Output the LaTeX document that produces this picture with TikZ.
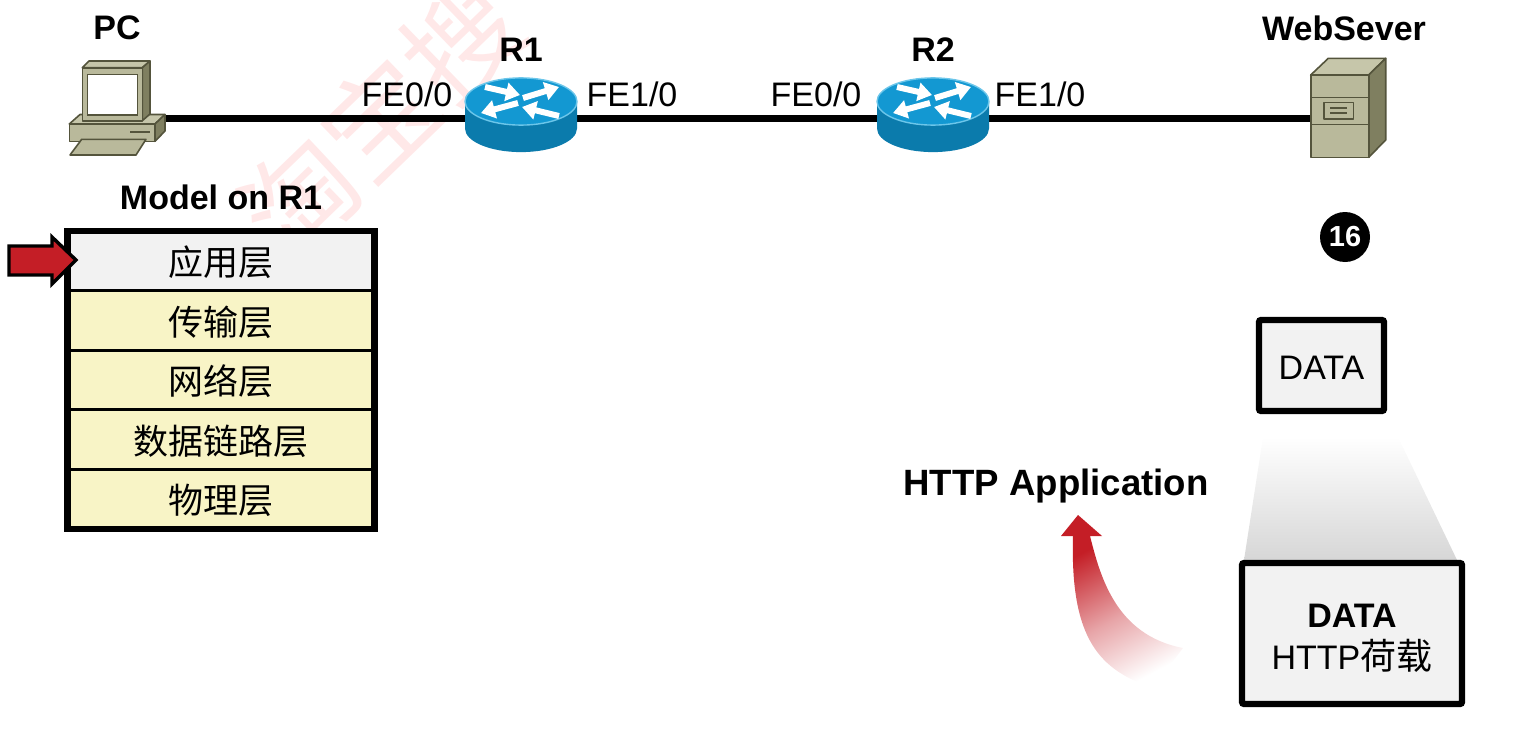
\documentclass[tikz,border=0pt]{standalone}
\usepackage{fontspec}
\setmainfont{Liberation Sans}
\newfontfamily\cjk{Noto Sans CJK SC}
\usetikzlibrary{positioning,fit,arrows.meta}

\definecolor{paneface}{HTML}{F2F2F2}
\definecolor{rowyellow}{HTML}{F8F4C6}
\definecolor{iconface}{HTML}{B9B99B}
\definecolor{icontop}{HTML}{C6C6AA}
\definecolor{iconside}{HTML}{7F7F60}
\definecolor{iconedge}{HTML}{54543C}
\definecolor{routertop}{HTML}{1398D2}
\definecolor{routerside}{HTML}{0B7BAC}
\definecolor{routerrim}{HTML}{6CC6EA}
\definecolor{pointred}{HTML}{C41E26}
\definecolor{markpink}{HTML}{FFE8E8}

\pgfdeclareverticalshading{tailfade}{100bp}{color(0bp)=(white); color(25bp)=(white); color(46bp)=(pointred!40); color(70bp)=(pointred); color(100bp)=(pointred)}

\tikzset{
  iconbox/.style={minimum height=20pt, inner sep=0pt, outer sep=0pt},
  linkline/.style={line width=3.8pt},
  iconshape/.style={draw=iconedge, line width=0.8pt, line join=round},
  routerarrow/.style={white, line width=3pt, -{Triangle[length=7pt, width=9pt]}},
  hostlabel/.style={font=\fontsize{17}{20}\selectfont\bfseries, inner sep=0pt},
  portlabel/.style={font=\fontsize{17}{20}\selectfont, inner sep=0pt},
  layerrow/.style={draw, line width=1.4pt, fill=rowyellow, minimum width=153.7pt, minimum height=29.8pt,
    inner sep=0pt, outer sep=0pt, text depth=0pt, font=\fontsize{17.5}{20}\selectfont\cjk},
  dataframe/.style={draw, line width=3.1pt, rounded corners=1pt, fill=paneface, inner sep=0pt, align=center}
}

\begin{document}
\begin{tikzpicture}[x=0.5pt, y=-0.5pt]
  \useasboundingbox (0,0) rectangle (1536,755);
  \clip (0,0) rectangle (1536,755);

  % watermark
  \node[text=markpink, rotate=44, inner sep=0pt, font=\fontsize{56}{60}\selectfont\cjk] (mark) at (380,119) {淘宝搜};

  \node[iconbox, minimum width=48pt] (pc) at (117,118.5) {};
  \node[iconbox, minimum width=56pt] (r1) at (521,118.5) {};
  \node[iconbox, minimum width=56pt] (r2) at (933,118.5) {};
  \node[iconbox, minimum width=38pt] (server) at (1348,118.5) {};
  \draw[linkline] (pc) -- (r1) -- (r2) -- (server);

  % PC
  \draw[iconshape, fill=icontop] (69.3,124) -- (80,114.5) -- (165,114.5) -- (155,124) -- cycle;
  \draw[iconshape, fill=iconside] (155,124) -- (165,114.5) -- (165,131) -- (155,141.3) -- cycle;
  \draw[iconshape, fill=iconface] (69.3,124) rectangle (155,141.3);
  \draw[iconedge, line width=1pt] (130,131.7) -- (150,131.7);
  \draw[iconshape, fill=iconface] (81.7,139.3) -- (146,139.3) -- (136,155) -- (70,155) -- cycle;
  \draw[iconshape, fill=icontop] (82.3,67.7) -- (89,61) -- (150,61) -- (142.3,67.7) -- cycle;
  \draw[iconshape, fill=iconside] (142.3,67.7) -- (150,61) -- (150,114) -- (142.3,120.7) -- cycle;
  \draw[iconshape, fill=iconface] (82.3,67.7) rectangle (142.3,120.7);
  \draw[iconedge, line width=0.6pt, fill=white] (87.7,74.7) rectangle (137.7,115);

  % routers
  \foreach \routerx in {521,933} {
    \begin{scope}[shift={(\routerx,0)}]
      \fill[routerside] (-56,101.5) -- (-56,128.5) arc[start angle=180, end angle=360, x radius=28pt, y radius=11.8pt] -- (56,101.5) -- cycle;
      \filldraw[fill=routertop, draw=routerrim, line width=0.7pt] (0,101.5) ellipse[x radius=28pt, y radius=11.8pt];
      \draw[routerarrow] (-36,87) -- (-1,95);
      \draw[routerarrow] (2,98) -- (38,87);
      \draw[routerarrow] (-3,103) -- (-40,113);
      \draw[routerarrow] (38,116) -- (1,107);
    \end{scope}
  }

  % server
  \draw[iconshape, fill=icontop] (1310.7,75) -- (1328.3,58.3) -- (1385.7,58.3) -- (1368.7,75) -- cycle;
  \draw[iconshape, fill=iconside] (1368.7,75) -- (1385.7,58.3) -- (1385.7,140) -- (1368.7,157.3) -- cycle;
  \draw[iconshape, fill=iconface] (1310.7,75) rectangle (1368.7,157.3);
  \draw[iconshape] (1310.7,97.3) -- (1368.7,97.3);
  \draw[iconshape] (1310.7,124.3) -- (1368.7,124.3);
  \draw[iconshape] (1324,102.3) rectangle (1353.3,119);
  \draw[iconedge, line width=0.8pt] (1330,107.7) -- (1347.3,107.7);
  \draw[iconedge, line width=0.8pt] (1330,113) -- (1347.3,113);

  \node[hostlabel] (pclabel) at (117,28) {PC};
  \node[hostlabel] (r1label) at (521,50) {R1};
  \node[hostlabel] (r2label) at (933,50) {R2};
  \node[hostlabel] (serverlabel) at (1344,28) {WebSever};
  \node[portlabel] (r1west) at (407,94) {FE0/0};
  \node[portlabel] (r1east) at (632,94) {FE1/0};
  \node[portlabel] (r2west) at (816,94) {FE0/0};
  \node[portlabel] (r2east) at (1040,94) {FE1/0};

  % layer stack
  \node[hostlabel] (modellabel) at (221,197) {Model on R1};
  \node[layerrow, fill=paneface] (appl) at (221,260.8) {应用层};
  \node[layerrow, below=0pt of appl] (trans) {传输层};
  \node[layerrow, below=0pt of trans] (netw) {网络层};
  \node[layerrow, below=0pt of netw] (link) {数据链路层};
  \node[layerrow, below=0pt of link] (phys) {物理层};
  \node[draw, line width=3.25pt, inner sep=0pt, outer sep=0pt, fit=(appl)(phys)] (stack) {};
  \draw[line width=1.7pt, fill=pointred, line join=miter] (9,246) -- (52,246) -- (52,237) -- (76,260) -- (52,284) -- (52,275) -- (9,275) -- cycle;

  % right side
  \node[circle, fill=black, text=white, minimum size=25pt, inner sep=0pt, font=\fontsize{14.5}{16}\selectfont\bfseries] (step16) at (1345,237) {16};
  \shade[top color=white, bottom color=black!16] (1263,437) -- (1398,437) -- (1457,560) -- (1244,560) -- cycle;
  \node[dataframe, minimum width=62.5pt, minimum height=45.5pt, text height=14.2pt, font=\fontsize{17}{20}\selectfont] (datasmall) at (1321.5,365.5) {DATA};
  \node[dataframe, minimum width=110pt, minimum height=70.5pt, font=\fontsize{17}{21}\selectfont] (datalarge) at (1352,633.5) {\rule{0pt}{16.3pt}\textbf{DATA}\\HTTP{\fontsize{18}{21}\selectfont\cjk 荷载}};

  \node[hostlabel, font=\fontsize{18.3}{20}\selectfont\bfseries] (httplabel) at (1056,486.5) {HTTP Application};
  \shade[shading=tailfade, shading angle=28, draw=none]
    (1078,515) -- (1102,536) -- (1090,536) .. controls (1100,575) and (1115,635) .. (1183,648)
    -- (1153,688) .. controls (1100,670) and (1070,640) .. (1073,536) -- (1061,536) -- cycle;
\end{tikzpicture}
\end{document}
